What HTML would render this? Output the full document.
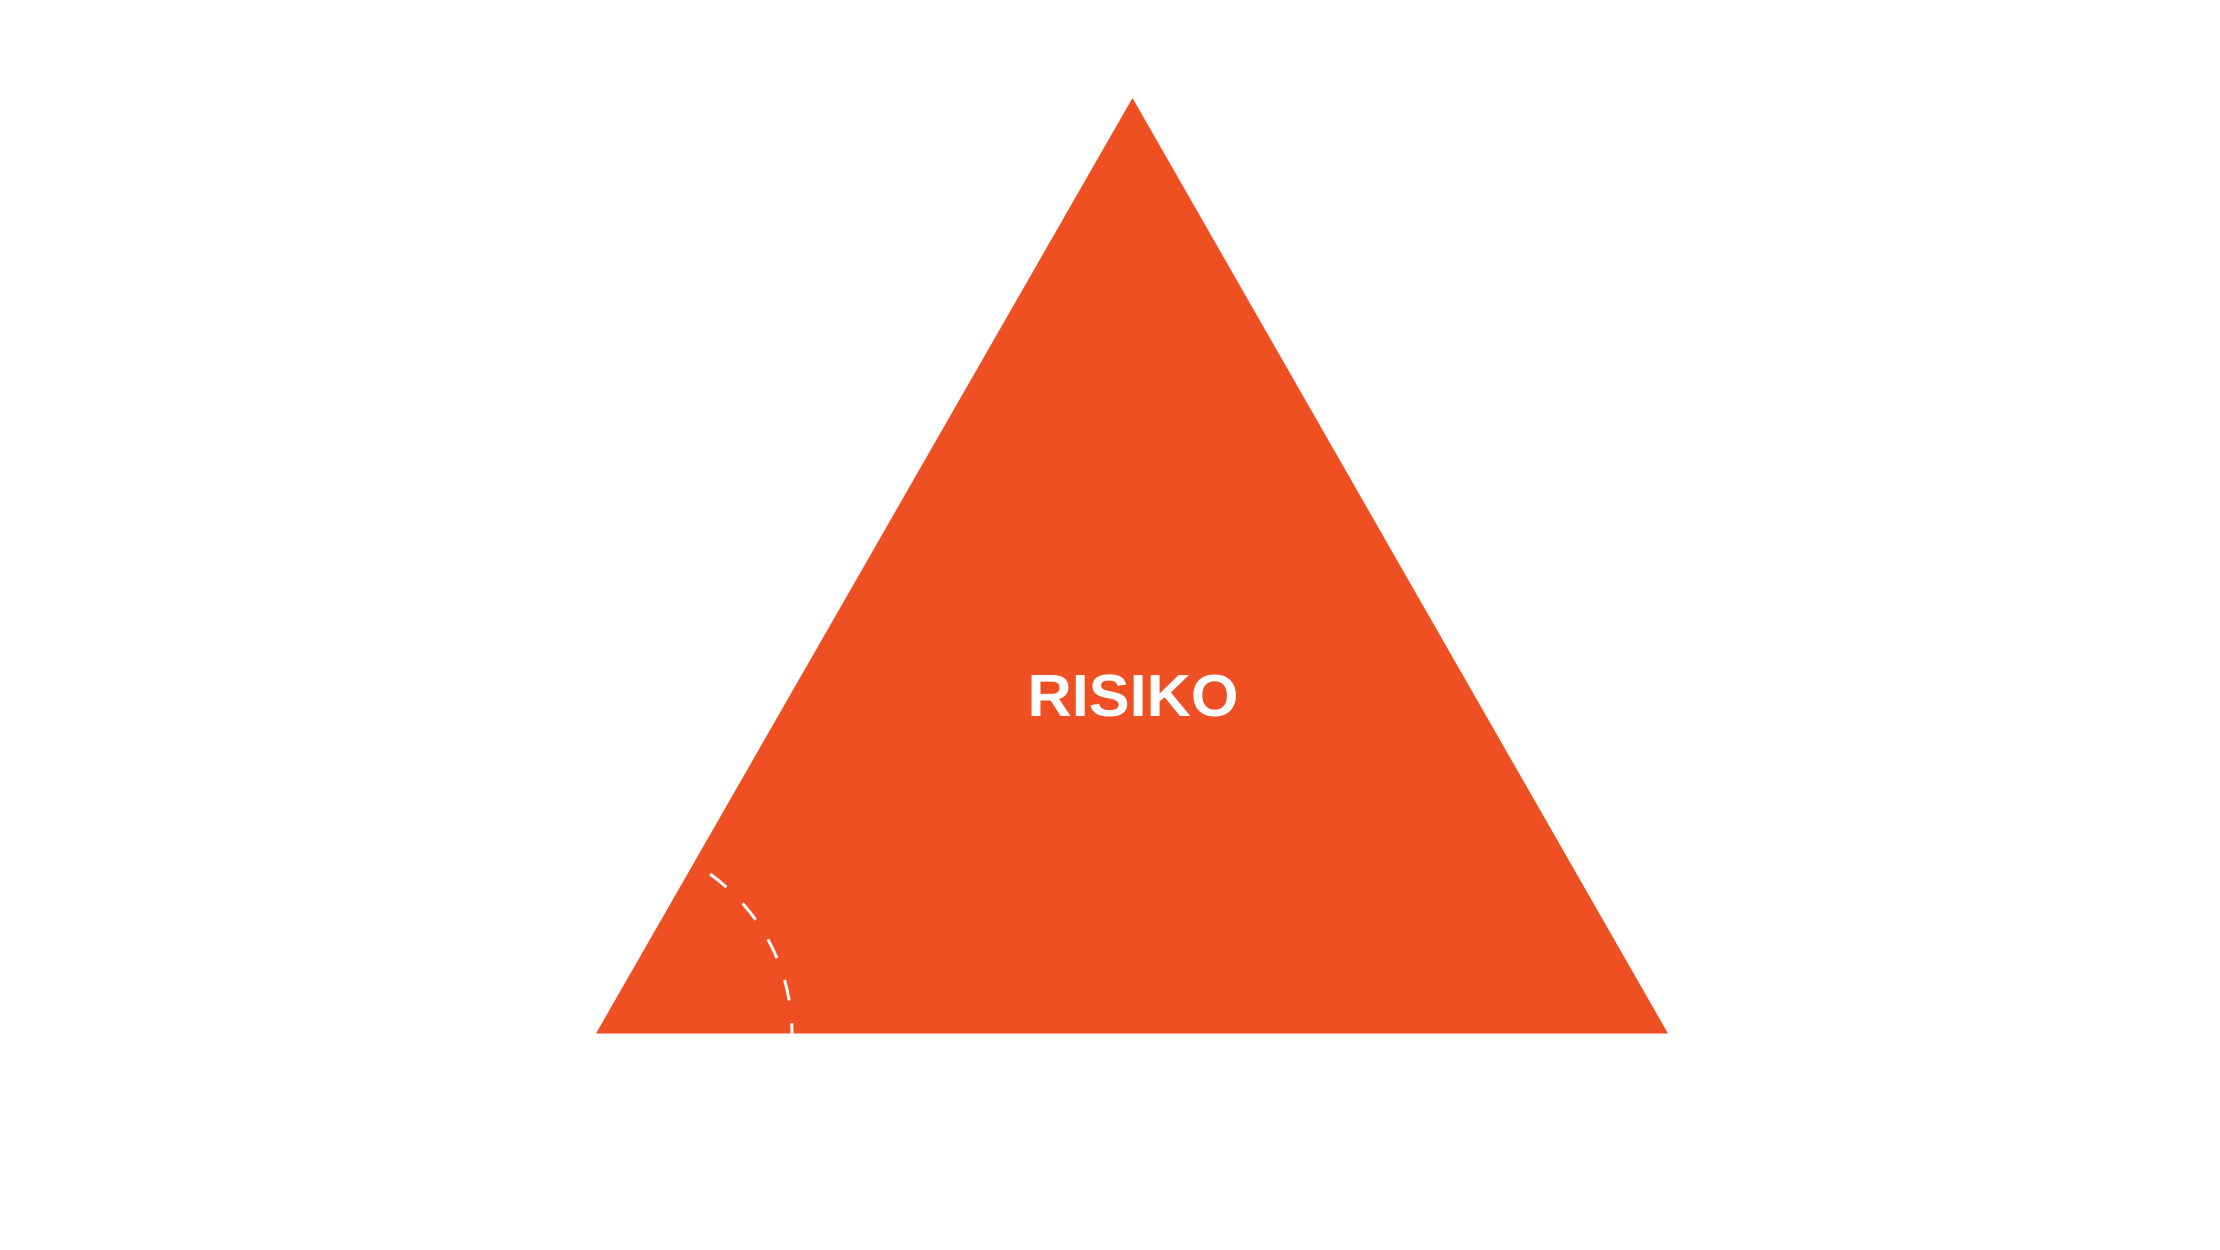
<!DOCTYPE html>
<html><head><meta charset="utf-8"><style>html,body{margin:0;padding:0;background:#fff}svg{display:block}</style></head>
<body>
<svg width="2220" height="1250" viewBox="0 0 2220 1250" xmlns="http://www.w3.org/2000/svg">
<rect width="2220" height="1250" fill="#fff"/>
<polygon points="1132.5,98 1668,1033.5 596,1033.5" fill="#EF5023"/>
<path d="M 710 874 A 196 196 0 0 1 792 1033.5" fill="none" stroke="#fff" stroke-width="3" stroke-dasharray="21 23"/>
<text x="1133" y="716" text-anchor="middle" font-family="Liberation Sans, sans-serif" font-weight="bold" font-size="59" fill="#fff" textLength="211" lengthAdjust="spacingAndGlyphs">RISIKO</text>
</svg>
</body></html>
